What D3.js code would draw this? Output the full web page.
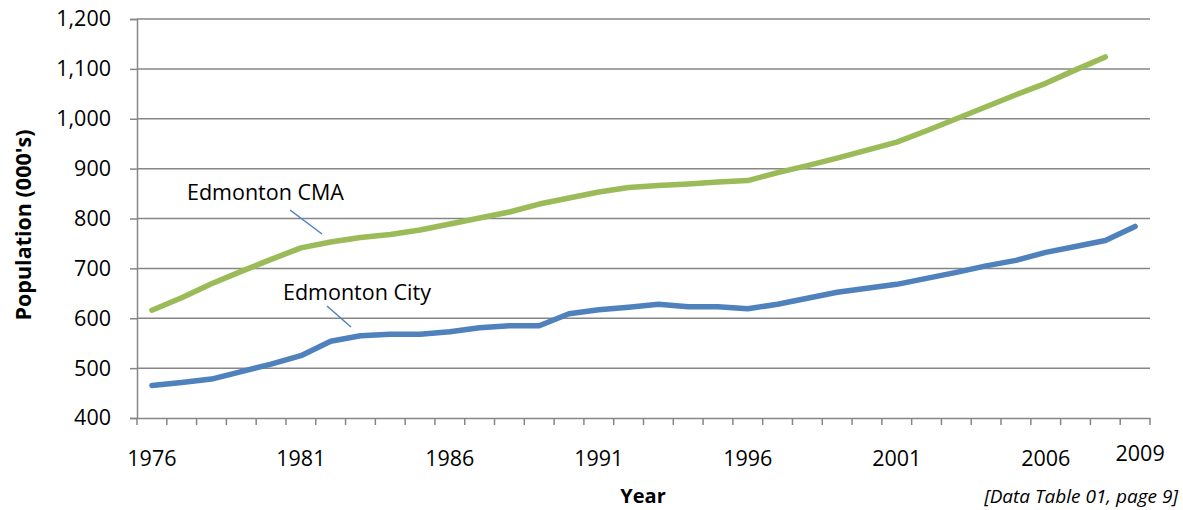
<!DOCTYPE html>
<html lang="en">
<head>
<meta charset="UTF-8">
<title>Edmonton Population</title>
<script src="https://d3js.org/d3.v7.min.js"></script>
<style>
  body { margin: 0; background: #fff; }
  svg text { font-family: "Open Sans", sans-serif; fill: #000; }
  .grid line { stroke: #868686; stroke-width: 1.5; }
  .axis path, .axis line { stroke: #868686; stroke-width: 1.5; }
  .axis text { font-size: 21.5px; }
</style>
</head>
<body>
<svg id="chart" width="1183" height="510"></svg>
<script>
const years = d3.range(1976, 2010);
const cityPop = [465, 471, 478, 493, 508, 525, 554, 565, 568, 568, 573, 581, 585, 585, 609, 617,
                 622, 628, 623, 623, 619, 628, 640, 652, 660, 668, 680, 692, 705, 716, 732, 744, 756, 784];
const cmaYears = d3.range(1976, 2009);
const cmaPop = [616, 641, 669, 694, 718, 741, 753, 762, 768, 777, 789, 801, 813, 829, 841, 853,
                862, 866, 869, 873, 876, 892, 906, 921, 937, 953, 976, 1000, 1024, 1048, 1071, 1098, 1124];
const yTicks = [400, 500, 600, 700, 800, 900, 1000, 1100, 1200];
const xLabels = [1976, 1981, 1986, 1991, 1996, 2001, 2006, 2009];

const svg = d3.select("#chart");
const plotL = 137, plotR = 1150, plotT = 19, plotB = 418;

const x = d3.scaleBand().domain(years).range([plotL, plotR]);
const y = d3.scaleLinear().domain([400, 1200]).range([plotB, plotT]);
const cx = d => x(d) + x.bandwidth() / 2;

// gridlines
svg.append("g").attr("class", "grid")
  .selectAll("line").data(yTicks.slice(1)).enter().append("line")
  .attr("x1", plotL).attr("x2", plotR)
  .attr("y1", d => y(d)).attr("y2", d => y(d));

// y axis
svg.append("g").attr("class", "axis")
  .attr("transform", `translate(${plotL},0)`)
  .call(d3.axisLeft(y).tickValues(yTicks).tickSize(7).tickPadding(19).tickFormat(d3.format(",")));

// x axis: labels at category centres, tick marks between categories
const xAxis = svg.append("g").attr("class", "axis")
  .attr("transform", `translate(0,${plotB})`)
  .call(d3.axisBottom(x).tickValues(xLabels).tickSize(0).tickPadding(33));
xAxis.selectAll(".tick")
  .filter(d => d === 2009)
  .select("text").attr("dx", 5).attr("dy", "0.45em");

svg.append("g").attr("class", "axis")
  .selectAll("line").data(years.concat([2010])).enter().append("line")
  .attr("x1", d => d === 2010 ? plotR : x(d))
  .attr("x2", d => d === 2010 ? plotR : x(d))
  .attr("y1", plotB).attr("y2", plotB + 7);

// lines
const line = d3.line().x(d => cx(d[0])).y(d => y(d[1]));

svg.append("path")
  .datum(cmaYears.map((d, i) => [d, cmaPop[i]]))
  .attr("d", line)
  .attr("fill", "none").attr("stroke", "#9BBB59").attr("stroke-width", 5.5)
  .attr("stroke-linecap", "round").attr("stroke-linejoin", "round");

svg.append("path")
  .datum(years.map((d, i) => [d, cityPop[i]]))
  .attr("d", line)
  .attr("fill", "none").attr("stroke", "#4F81BD").attr("stroke-width", 5.5)
  .attr("stroke-linecap", "round").attr("stroke-linejoin", "round");

// series labels with leader lines
svg.append("text").attr("x", 187).attr("y", 200).attr("font-size", 21.5).text("Edmonton CMA");
svg.append("line").attr("x1", 290).attr("y1", 210).attr("x2", 322).attr("y2", 234)
  .attr("stroke", "#4F81BD").attr("stroke-width", 1.5);

svg.append("text").attr("x", 283).attr("y", 300).attr("font-size", 21.5).text("Edmonton City");
svg.append("line").attr("x1", 327).attr("y1", 306).attr("x2", 351).attr("y2", 327)
  .attr("stroke", "#4F81BD").attr("stroke-width", 1.5);

// axis titles and source
svg.append("text")
  .attr("transform", `translate(31,225) rotate(-90)`)
  .attr("text-anchor", "middle").attr("font-size", 21.5).attr("font-weight", "bold")
  .text("Population (000's)");

svg.append("text").attr("x", 643).attr("y", 503)
  .attr("text-anchor", "middle").attr("font-size", 20).attr("font-weight", "bold")
  .text("Year");

svg.append("text").attr("x", 1178).attr("y", 503)
  .attr("text-anchor", "end").attr("font-size", 19).attr("font-style", "italic")
  .text("[Data Table 01, page 9]");
</script>
</body>
</html>
